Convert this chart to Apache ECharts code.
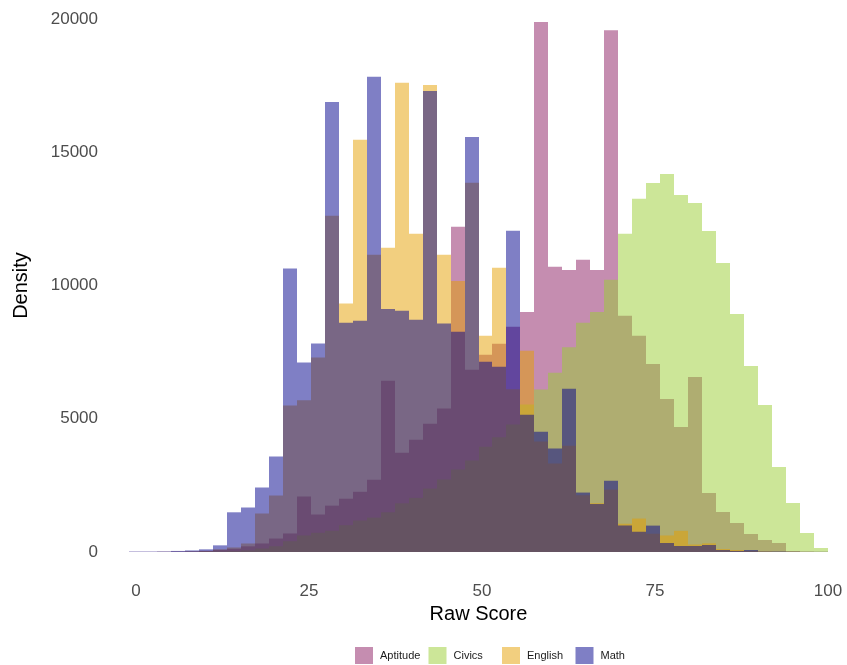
<!DOCTYPE html>
<html>
<head>
<meta charset="utf-8">
<title>Raw Score distribution by subject</title>
<script src="https://cdn.jsdelivr.net/npm/echarts@6/dist/echarts.min.js"></script>
<style>
  html, body { margin: 0; padding: 0; background: #ffffff; }
  #chart { width: 847px; height: 665px; }
</style>
</head>
<body>
<div id="chart"></div>
<script>
// 50 bins, each 99/49 wide, centred on 0, 2.02, ..., 99
const BIN_WIDTH = 99 / 49;
const BIN_COUNT = 50;

const subjects = ['Aptitude', 'Civics', 'English', 'Math'];
const subjectColors = [
  'rgba(139, 28, 98, 0.5)',   // Aptitude
  'rgba(154, 205, 50, 0.5)',  // Civics
  'rgba(230, 159, 0, 0.5)',   // English
  'rgba(0, 0, 139, 0.5)'      // Math
];

// counts per bin, lowest score bin first
const aptitude = [5, 5, 8, 15, 25, 45, 80, 120, 213, 320,
  505, 695, 2083, 1407, 1740, 2000, 2260, 2710, 6425, 3720,
  4210, 4815, 5380, 12200, 6840, 7400, 7815, 8450, 9010, 19885,
  10700, 10583, 10965, 10583, 19580, 8865, 8115, 7056, 5742, 4691,
  6568, 2214, 1501, 1088, 676, 450, 338, 38, 20, 10];

const civics = [0, 0, 0, 0, 5, 10, 15, 30, 60, 130,
  215, 405, 620, 720, 795, 1005, 1180, 1290, 1490, 1826,
  2030, 2380, 2720, 3100, 3430, 3945, 4305, 4780, 5535, 6097,
  6730, 7680, 8605, 9010, 10215, 11940, 13255, 13849, 14186, 13398,
  13098, 12047, 10846, 8932, 6981, 5517, 3190, 1839, 713, 150];

const english = [0, 0, 5, 10, 20, 40, 100, 170, 320, 1445,
  2120, 5500, 5690, 7300, 12615, 9320, 15470, 11150, 11415, 17610,
  11945, 17526, 11155, 10170, 13855, 8115, 10665, 6110, 7550, 4150,
  3320, 3990, 2130, 1830, 2340, 1060, 1255, 686, 620, 795,
  280, 325, 113, 75, 40, 20, 10, 5, 0, 0];

const math = [15, 15, 20, 40, 60, 100, 250, 1490, 1670, 2420,
  3580, 10640, 7110, 7820, 16890, 8600, 8680, 17830, 9120, 9050,
  8715, 17300, 8577, 8260, 15575, 7135, 6950, 12055, 5150, 4510,
  3880, 6130, 2230, 1800, 2670, 995, 760, 990, 338, 225,
  225, 263, 75, 40, 75, 20, 20, 10, 5, 5];

const xTicks = [0, 25, 50, 75, 100];
const yTicks = { min: 0, max: 20000, step: 5000 };

const seriesCounts = [aptitude, civics, english, math];

// [binStart, binEnd, count]
function toBins(counts) {
  return counts.map((c, i) => [(i - 0.5) * BIN_WIDTH, (i + 0.5) * BIN_WIDTH, c]);
}

function renderBar(params, api) {
  const top = api.coord([api.value(0), api.value(2)]);
  const base = api.coord([api.value(1), 0]);
  const x0 = Math.round(top[0]);
  const x1 = Math.round(base[0]);
  return {
    type: 'rect',
    shape: { x: x0, y: top[1], width: x1 - x0, height: base[1] - top[1] },
    style: api.style()
  };
}

const chart = echarts.init(document.getElementById('chart'), null, { renderer: 'canvas' });

const FONT = '"Liberation Sans", Arial, Helvetica, sans-serif';

// one legend entry per key, laid out on an even pitch under the panel
const LEGEND_LEFT = 355;
const LEGEND_PITCH = 73.5;
const legends = subjects.map((name, k) => ({
  data: [name],
  top: 647,
  left: LEGEND_LEFT + k * LEGEND_PITCH,
  padding: 0,
  icon: 'rect',
  itemWidth: 18,
  itemHeight: 17,
  textStyle: {
    fontFamily: FONT, fontSize: 11, color: '#1a1a1a',
    padding: [0, 0, 0, 2]
  }
}));

chart.setOption({
  backgroundColor: '#ffffff',
  animation: false,
  textStyle: { fontFamily: FONT },
  grid: {
    left: 129, right: 19, top: 19, bottom: 113,
    containLabel: false,
    outerBoundsMode: 'none'
  },
  legend: legends,
  xAxis: {
    type: 'value',
    min: -BIN_WIDTH / 2,
    max: (BIN_COUNT - 0.5) * BIN_WIDTH,
    name: 'Raw Score',
    nameLocation: 'middle',
    nameGap: 50,
    nameTextStyle: { fontFamily: FONT, fontSize: 20, color: '#000000' },
    axisLine: { show: false },
    axisTick: { show: false },
    splitLine: { show: false },
    axisLabel: {
      customValues: xTicks,
      showMinLabel: true,
      showMaxLabel: true,
      margin: 31,
      fontSize: 17,
      color: '#4d4d4d',
      fontFamily: FONT
    }
  },
  yAxis: {
    type: 'value',
    min: yTicks.min,
    max: yTicks.max,
    interval: yTicks.step,
    name: 'Density',
    nameLocation: 'middle',
    nameGap: 98,
    nameTextStyle: { fontFamily: FONT, fontSize: 20, color: '#000000' },
    axisLine: { show: false },
    axisTick: { show: false },
    splitLine: { show: false },
    axisLabel: {
      margin: 31,
      fontSize: 17,
      color: '#4d4d4d',
      fontFamily: FONT,
      formatter: (v) => String(v)
    }
  },
  series: subjects.map((name, k) => ({
    name: name,
    type: 'custom',
    renderItem: renderBar,
    itemStyle: { color: subjectColors[k] },
    encode: { x: [0, 1], y: 2 },
    data: toBins(seriesCounts[k]),
    z: 2 + k
  }))
});
</script>
</body>
</html>
